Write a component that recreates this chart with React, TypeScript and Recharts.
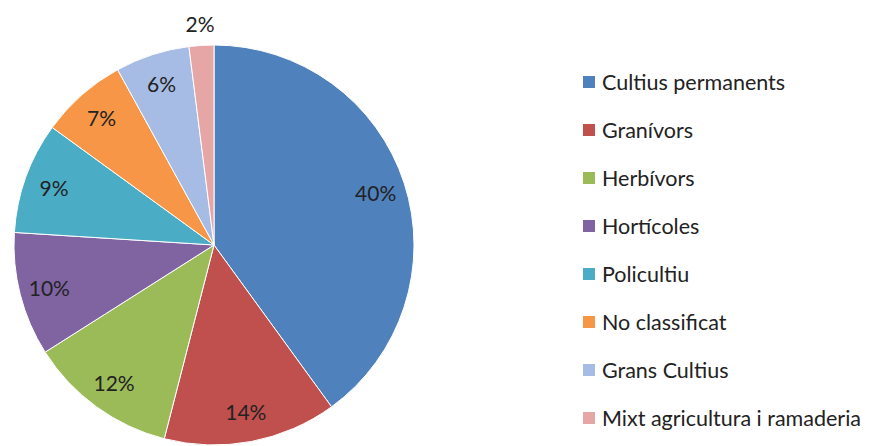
import { PieChart, Pie, Cell, Legend } from "recharts"

const categories = [
	"Cultius permanents",
	"Granívors",
	"Herbívors",
	"Hortícoles",
	"Policultiu",
	"No classificat",
	"Grans Cultius",
	"Mixt agricultura i ramaderia",
]
const shares = [40, 14, 12, 10, 9, 7, 6, 2]
const colors = [
	"#4F81BD",
	"#C0504D",
	"#9BBB59",
	"#8064A2",
	"#4BACC6",
	"#F79646",
	"#A7BCE4",
	"#E6A6A6",
]

const data = categories.map((name, i) => ({ name, value: shares[i] }))

const FONT = "Lato, 'Open Sans', sans-serif"
const RAD = Math.PI / 180

const renderLabel = (props: any) => {
	const { cx, cy, midAngle, outerRadius, value } = props
	// tiny slices get their label outside the pie, like Excel does
	const r = value < 4 ? outerRadius + 22 : outerRadius * 0.85
	const x = cx + r * Math.cos(-midAngle * RAD)
	const y = cy + r * Math.sin(-midAngle * RAD)
	return (
		<text
			x={x}
			y={y}
			fill="#222"
			fontSize={21}
			fontFamily={FONT}
			textAnchor="middle"
			dominantBaseline="central"
		>
			{value}%
		</text>
	)
}

const renderLegend = () => (
	<div style={{ fontFamily: FONT, fontSize: 21.5, color: "#222" }}>
		{categories.map((c, i) => (
			<div
				key={c}
				style={{ display: "flex", alignItems: "center", height: 48 }}
			>
				<span
					style={{
						width: 12,
						height: 12,
						background: colors[i],
						marginRight: 7,
						display: "inline-block",
					}}
				/>
				<span>{c}</span>
			</div>
		))}
	</div>
)

export default function App() {
	return (
		<div style={{ position: "absolute", left: 0, top: 0, background: "#fff" }}>
			<PieChart
				width={877}
				height={446}
				margin={{ top: 0, right: 0, bottom: 0, left: 0 }}
			>
				<Pie
					data={data}
					dataKey="value"
					nameKey="name"
					cx={214}
					cy={245}
					outerRadius={200}
					startAngle={90}
					endAngle={-270}
					stroke="#fff"
					strokeWidth={1}
					label={renderLabel}
					labelLine={false}
					isAnimationActive={false}
				>
					{data.map((d, i) => (
						<Cell key={d.name} fill={colors[i]} />
					))}
				</Pie>
				<Legend
					content={renderLegend}
					layout="vertical"
					verticalAlign="top"
					align="right"
					wrapperStyle={{ left: 583, top: 58, width: 294 }}
				/>
			</PieChart>
		</div>
	)
}
